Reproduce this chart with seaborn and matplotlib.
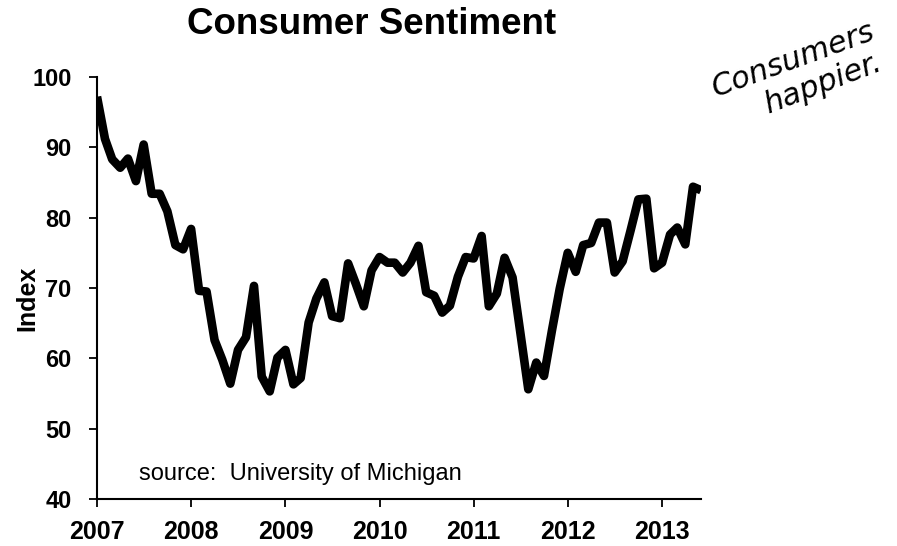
import matplotlib
matplotlib.use("Agg")
import matplotlib.pyplot as plt
import numpy as np
import pandas as pd
import seaborn as sns

# ---- data (monthly index values, Jan 2007 - Jun 2013) ----
start_month = "2007-01-01"
values_2007 = [97.2, 91.2, 88.3, 87.1, 88.4, 85.2, 90.4, 83.4, 83.4, 80.9, 76.1, 75.5]
values_2008 = [78.4, 69.6, 69.5, 62.6, 59.8, 56.4, 61.2, 63.0, 70.3, 57.4, 55.3, 60.1]
values_2009 = [61.2, 56.3, 57.2, 65.1, 68.5, 70.8, 66.0, 65.7, 73.5, 70.6, 67.4, 72.5]
values_2010 = [74.4, 73.6, 73.6, 72.2, 73.6, 76.0, 69.4, 68.9, 66.5, 67.5, 71.6, 74.4]
values_2011 = [74.2, 77.4, 67.4, 69.2, 74.3, 71.5, 63.7, 55.6, 59.4, 57.5, 64.0, 69.9]
values_2012 = [75.0, 72.3, 76.1, 76.4, 79.3, 79.3, 72.2, 73.8, 78.2, 82.6, 82.7, 72.8]
values_2013 = [73.6, 77.6, 78.6, 76.2, 84.4, 83.9]
year_ticks = [2007, 2008, 2009, 2010, 2011, 2012, 2013]
y_ticks = [40, 50, 60, 70, 80, 90, 100]

values = (values_2007 + values_2008 + values_2009 + values_2010 +
          values_2011 + values_2012 + values_2013)
dates = pd.date_range(start_month, periods=len(values), freq="MS")
df = pd.DataFrame({"date": dates, "index": values})

sns.set_style("ticks")
plt.rcParams["font.family"] = ["Liberation Sans", "DejaVu Sans"]
plt.rcParams["text.color"] = "black"
plt.rcParams["axes.labelcolor"] = "black"
plt.rcParams["xtick.color"] = "black"
plt.rcParams["ytick.color"] = "black"

fig = plt.figure(figsize=(8.97, 5.46), dpi=100)
ax = fig.add_axes([97 / 897, 1 - 499 / 546, (701 - 97) / 897, (499 - 77) / 546])

sns.lineplot(data=df, x="date", y="index", ax=ax, color="black",
             linewidth=6.2, solid_joinstyle="round", solid_capstyle="butt")

ax.set_xlim(dates[0], dates[-1])
ax.set_ylim(40, 100)
ax.set_xticks([pd.Timestamp(f"{y}-01-01") for y in year_ticks])
ax.set_xticklabels([str(y) for y in year_ticks], fontsize=18, fontweight="bold")
ax.set_yticks(y_ticks)
ax.set_yticklabels([str(v) for v in y_ticks], fontsize=17, fontweight="bold")
ax.set_xlabel("")
ax.set_ylabel("Index", fontsize=18, fontweight="bold")
ax.yaxis.set_label_coords(-0.095, 0.476)

for s in ["top", "right"]:
    ax.spines[s].set_visible(False)
for s in ["left", "bottom"]:
    ax.spines[s].set_linewidth(1.5)
    ax.spines[s].set_color("black")
ax.tick_params(axis="both", direction="out", length=5.8, width=1.3, color="black",
               labelcolor="black")
ax.tick_params(axis="x", pad=9.5)
ax.tick_params(axis="y", pad=12.5)

ax.text(42 / 604, 19 / 422, "source:  University of Michigan", transform=ax.transAxes,
        fontsize=17, ha="left", va="baseline", color="black")

fig.text(372 / 897, 1 - 25 / 546, "Consumer Sentiment", fontsize=26.5,
         fontweight="bold", ha="center", va="center", color="black")

fig.text(793 / 897, 1 - 60 / 546, "Consumers", fontsize=22, style="italic",
         rotation=20, ha="center", va="center", family=["DejaVu Sans"], color="black")
fig.text(823 / 897, 1 - 83 / 546, "happier.", fontsize=22, style="italic",
         rotation=21, ha="center", va="center", family=["DejaVu Sans"], color="black")

fig.savefig("out.png", dpi=100, facecolor="white")
